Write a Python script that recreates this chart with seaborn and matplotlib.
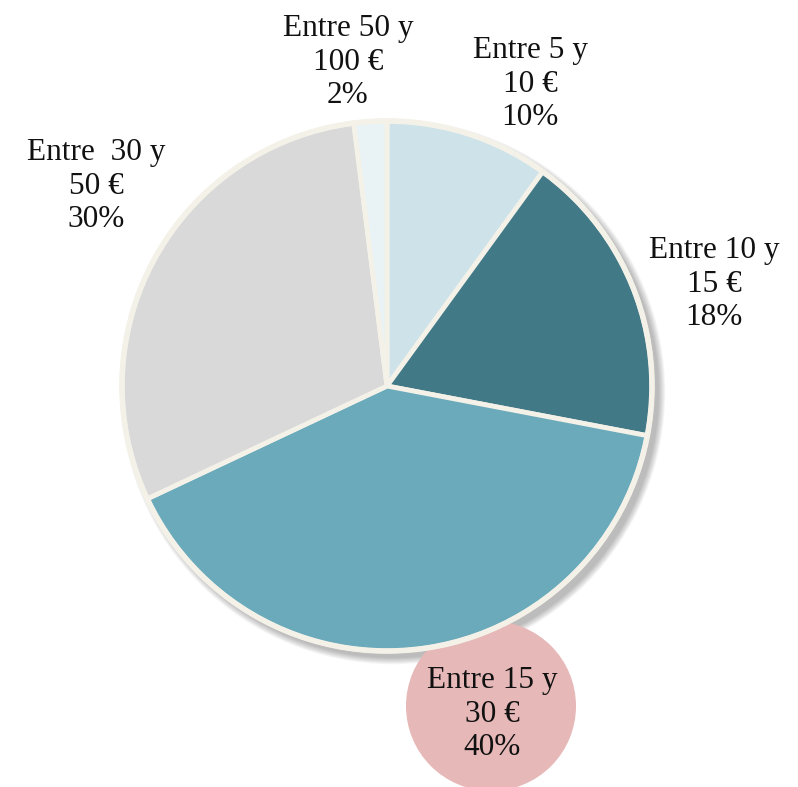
import matplotlib.pyplot as plt
import matplotlib.patches as mpatches
import seaborn as sns

# data
labels = ["Entre 5 y", "Entre 10 y", "Entre 15 y", "Entre  30 y", "Entre 50 y"]
prices = ["10 €", "15 €", "30 €", "50 €", "100 €"]
shares = [10, 18, 40, 30, 2]

colors = ["#cde3e9", "#427987", "#6aaabb", "#d9d9da", "#e9f3f6"]

sns.set_theme(style="white")
plt.rcParams["font.family"] = ["Liberation Serif", "DejaVu Serif"]

W, H = 798, 787
fig = plt.figure(figsize=(W / 100, H / 100), dpi=100)
ax = fig.add_axes([0, 0, 1, 1])

cx, cy, r = 387, 386, 265

# soft shadow behind the pie
for i in range(8):
    ax.add_patch(mpatches.Circle((cx + 6, cy + 6), r + 1 + i * 0.9,
                                 color="#000000", alpha=0.035, lw=0, zorder=0))

# pink bubble behind the biggest slice label
ax.add_patch(mpatches.Circle((491, 706), 85, color="#e6b8b7", lw=0, zorder=0.5))

# y axis is inverted (pixel coords), so start at -90 and go counterclockwise
ax.pie(shares, colors=colors, startangle=-90, counterclock=True,
       center=(cx, cy), radius=r, frame=True,
       wedgeprops=dict(edgecolor="#f3f1e8", linewidth=3.5))
ax.set_xlim(0, W)
ax.set_ylim(H, 0)
ax.set_aspect("equal")
ax.axis("off")

# outer rim
ax.add_patch(mpatches.Circle((cx, cy), r, fill=False, ec="#f3f1e8", lw=4, zorder=3))

label_pos = [(530, 84), (714, 284), (492, 714), (96, 186), (348, 62)]
for (x, y), lab, p, s in zip(label_pos, labels, prices, shares):
    ax.text(x, y, f"{lab}\n{p}\n{s}%", ha="center", va="center",
            fontsize=22.5, linespacing=1.22, color="#111111", zorder=5)

fig.savefig("out.png", dpi=100)
